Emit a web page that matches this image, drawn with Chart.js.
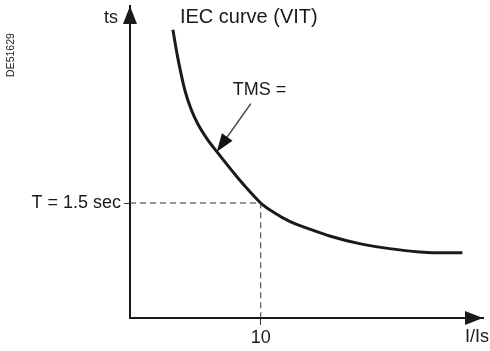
<!DOCTYPE html>
<html>
<head>
<meta charset="utf-8">
<script src="https://cdn.jsdelivr.net/npm/chart.js@4/dist/chart.umd.min.js"></script>
<style>
  body { margin: 0; background: #fff; }
  canvas { display: block; }
</style>
</head>
<body>
<canvas id="curve" width="490" height="351"></canvas>
<script>
// I/Is multiples and trip time (s) along the very inverse time curve
const currentRatio = [3.28, 3.66, 4.2, 4.66, 5.19, 5.88, 6.64, 8.24, 9.16, 10, 11.07, 12.21, 13.74, 15.27, 17.56, 19.85, 22.14, 24.05, 25.42];
const tripTime = [3.76, 3.39, 2.97, 2.73, 2.53, 2.34, 2.17, 1.83, 1.65, 1.5, 1.37, 1.26, 1.16, 1.07, 0.97, 0.905, 0.862, 0.85, 0.85];

// setting point marked by the dashed guide lines
const settingRatio = [10];
const settingTime = [1.5];
const xTickLabels = ['10'];
const yTickLabels = ['T = 1.5 sec'];

// axis extents
const xRange = [0, 27];
const yRange = [0, 4.07];

// curve point the TMS arrow points at
const tmsIndex = 6;

const ink = '#1a1a1a';
const font = '"Liberation Sans", Arial, sans-serif';

const curvePoints = currentRatio.map((x, i) => ({ x: x, y: tripTime[i] }));
const guidePoints = [
    { x: xRange[0], y: settingTime[0] },
    { x: settingRatio[0], y: settingTime[0] },
    { x: settingRatio[0], y: yRange[0] }
];

function arrowHead(ctx, tipX, tipY, angle, len, half) {
    ctx.save();
    ctx.translate(tipX, tipY);
    ctx.rotate(angle);
    ctx.beginPath();
    ctx.moveTo(0, 0);
    ctx.lineTo(-len, -half);
    ctx.lineTo(-len, half);
    ctx.closePath();
    ctx.fill();
    ctx.restore();
}

const decorations = {
    id: 'decorations',
    afterDraw(chart) {
        const ctx = chart.ctx;
        const area = chart.chartArea;
        const xs = chart.scales.x;
        const ys = chart.scales.y;
        ctx.save();
        ctx.fillStyle = ink;
        ctx.strokeStyle = ink;

        // axis arrows
        arrowHead(ctx, area.left, area.top, -Math.PI / 2, 18, 7);
        arrowHead(ctx, area.right, area.bottom, 0, 18, 7);

        ctx.font = '18px ' + font;
        ctx.textBaseline = 'middle';
        ctx.textAlign = 'right';
        ctx.fillText('ts', area.left - 12, area.top + 12);
        ctx.fillText('I/Is', chart.width - 1, area.bottom + 19);

        // curve name next to its upper end
        const first = curvePoints[0];
        ctx.textAlign = 'left';
        ctx.font = '20px ' + font;
        ctx.fillText('IEC curve (VIT)', xs.getPixelForValue(first.x) + 7, ys.getPixelForValue(first.y) - 12);

        // TMS callout pointing at the curve
        const tip = curvePoints[tmsIndex];
        const tipX = xs.getPixelForValue(tip.x);
        const tipY = ys.getPixelForValue(tip.y);
        ctx.font = '18px ' + font;
        ctx.fillText('TMS =', tipX + 16, tipY - 62);
        const startX = tipX + 34, startY = tipY - 48;
        const ang = Math.atan2(tipY - startY, tipX - startX);
        ctx.strokeStyle = '#444';
        ctx.fillStyle = '#111';
        ctx.lineWidth = 1.5;
        ctx.beginPath();
        ctx.moveTo(startX, startY);
        ctx.lineTo(tipX - Math.cos(ang) * 12, tipY - Math.sin(ang) * 12);
        ctx.stroke();
        arrowHead(ctx, tipX, tipY, ang, 18, 6.5);

        // drawing reference
        ctx.fillStyle = ink;
        ctx.translate(11, 55);
        ctx.rotate(-Math.PI / 2);
        ctx.textAlign = 'center';
        ctx.font = '10.5px ' + font;
        ctx.fillText('DE51629', 0, 0);
        ctx.restore();
    }
};

new Chart(document.getElementById('curve'), {
    type: 'scatter',
    data: {
        datasets: [
            {
                data: guidePoints,
                showLine: true,
                borderColor: '#333',
                borderWidth: 1,
                borderDash: [6, 4],
                pointRadius: 0
            },
            {
                data: curvePoints,
                showLine: true,
                borderColor: ink,
                borderWidth: 3,
                pointRadius: 0,
                cubicInterpolationMode: 'monotone'
            }
        ]
    },
    options: {
        responsive: false,
        animation: false,
        layout: { padding: { top: 6, right: 7, left: 0, bottom: 0 } },
        plugins: {
            legend: { display: false },
            tooltip: { enabled: false }
        },
        scales: {
            x: {
                type: 'linear',
                min: xRange[0],
                max: xRange[1],
                afterBuildTicks: s => { s.ticks = settingRatio.map(v => ({ value: v })); },
                afterFit: s => { s.height = 33; s.paddingLeft = 0; s.paddingRight = 0; },
                ticks: {
                    color: ink,
                    font: { family: font, size: 18 },
                    padding: 2,
                    maxRotation: 0,
                    callback: (v, i) => xTickLabels[i]
                },
                grid: { drawOnChartArea: false, drawTicks: true, tickLength: 7, color: '#333', lineWidth: 1 },
                border: { display: true, color: ink, width: 2 }
            },
            y: {
                type: 'linear',
                min: yRange[0],
                max: yRange[1],
                afterBuildTicks: s => { s.ticks = settingTime.map(v => ({ value: v })); },
                afterFit: s => { s.width = 130; s.paddingTop = 0; s.paddingBottom = 0; },
                ticks: {
                    color: ink,
                    font: { family: font, size: 18 },
                    padding: 3,
                    callback: (v, i) => yTickLabels[i]
                },
                grid: { drawOnChartArea: false, drawTicks: true, tickLength: 6, color: '#333', lineWidth: 1 },
                border: { display: true, color: ink, width: 2 }
            }
        }
    },
    plugins: [decorations]
});
</script>
</body>
</html>
